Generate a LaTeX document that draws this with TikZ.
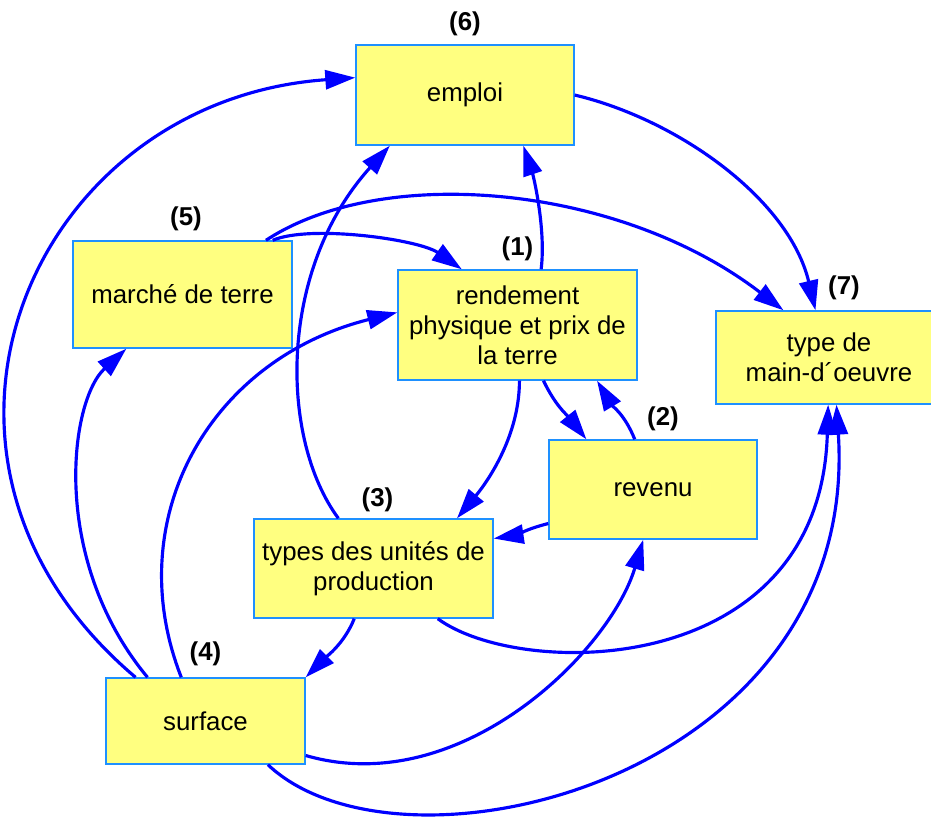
\documentclass[tikz,border=0pt]{standalone}
\usepackage{fontspec}
\setmainfont{Liberation Sans}
\usetikzlibrary{positioning,arrows.meta}
\definecolor{boxyellow}{RGB}{255,255,128}
\definecolor{boxblue}{RGB}{30,144,255}
\tikzset{main node/.style={rectangle,fill=boxyellow,draw=boxblue,line width=0.8pt,align=center,inner sep=0pt,font=\fontsize{14.7}{17}\selectfont},
         num node/.style={inner sep=0pt,font=\fontsize{14.7}{17}\selectfont\bfseries},
         link/.style={draw=blue,line width=1.8pt,-{Triangle[length=0.6cm,width=0.38cm]}},
            }

\begin{document}
\begin{tikzpicture}[x=0.02cm,y=-0.02cm]
    \clip (0,0) rectangle (931,816);
    \node[main node,minimum width=4.36cm,minimum height=2cm] (6) at (465,95) {emploi};
    \node[main node,minimum width=4.38cm,minimum height=2.14cm] (5) at (182.5,294.5) {marché de terre};
    \node[main node,minimum width=4.78cm,minimum height=2.2cm] (1) at (517.5,325) {rendement\\physique et prix de\\la terre};
    \node[main node,minimum width=4.52cm,minimum height=1.86cm] (7) at (829,357.5) {type de\\main-d´oeuvre};
    \node[main node,minimum width=4.16cm,minimum height=1.98cm] (2) at (653,489.5) {revenu};
    \node[main node,minimum width=4.78cm,minimum height=1.98cm] (3) at (373.5,568.5) {types des unités de\\production};
    \node[main node,minimum width=3.98cm,minimum height=1.72cm] (4) at (205.5,721) {surface};

    \node[num node] (l6) [above = 0.16cm of 6] {(6)};
    \node[num node] (l5) [above = 0.18cm of 5, xshift=0.07cm] {(5)};
    \node[num node] (l1) [above = 0.16cm of 1] {(1)};
    \node[num node] (l7) [above = 0.2cm of 7, xshift=0.3cm] {(7)};
    \node[num node] (l2) [above = 0.16cm of 2, xshift=0.2cm] {(2)};
    \node[num node] (l3) [above = 0.12cm of 3, xshift=0.08cm] {(3)};
    \node[num node] (l4) [above = 0.22cm of 4] {(4)};

    \draw[link] (4.148) .. controls +(-258,-218) and +(-326,23) .. (6.171);
    \draw[link] (4.143) .. controls +(-98,-118) and +(-57,52) .. (5.224);
    \draw[link] (4.119) .. controls +(-62,-158) and +(-188,47) .. (1.174);
    \draw[link] (4.341) .. controls +(155,45) and +(-33,111) .. (2.259);
    \draw[link] (4.325) .. controls +(133,126) and +(24,375) .. (7.279);
    \draw[link] (3.125) .. controls +(-59,-80) and +(-112,124) .. (6.214);
    \draw[link] (3.322) .. controls +(83,61) and +(-8,275) .. (7.269);
    \draw[link] (3.249) .. controls +(-10,25) and +(20,-20) .. (4.north east);
    \draw[link] (1.272) .. controls +(0,60) and +(25,-30) .. (3.31);
    \draw[link] (1.295) .. controls +(12,25) and +(-20,-25) .. (2.143);
    \draw[link] (2.110) .. controls +(-10,-25) and +(15,25) .. (1.325);
    \draw[link] (2.198) .. controls +(-20,5) and +(20,-3) .. (3.14);
    \draw[link] (1.67) .. controls +(5,-40) and +(10,30) .. (6.319);
    \draw[link] (5.31) .. controls +(37,-16) and +(-43,-30) .. (1.135);
    \draw[link] (5.33) .. controls +(117,-77) and +(-164,-126) .. (7.134);
    \draw[link] (6.east) .. controls +(105,25) and +(-26,-110) .. (7.106);
\end{tikzpicture}
\end{document}
